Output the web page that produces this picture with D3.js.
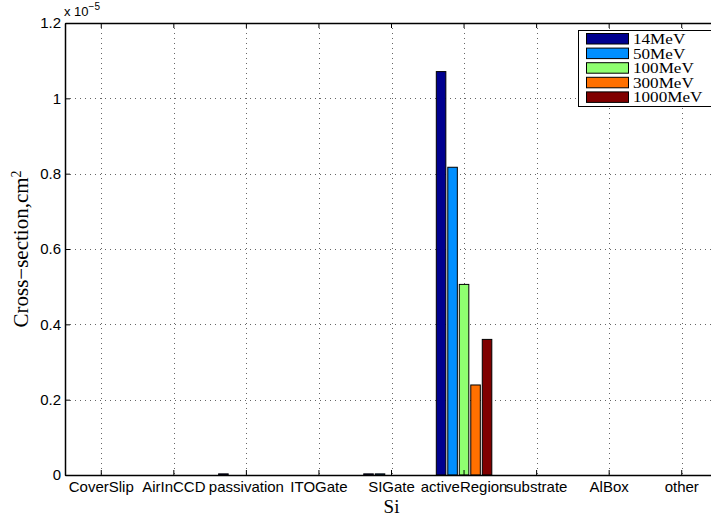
<!DOCTYPE html>
<html>
<head>
<meta charset="utf-8">
<script src="https://cdn.jsdelivr.net/npm/d3@7"></script>
<style>
  html, body { margin: 0; padding: 0; background: #fff; }
  svg { display: block; }
</style>
</head>
<body>
<svg id="chart" width="711" height="519"></svg>
<script>
// Regions of the detector (x categories)
const categories = ["CoverSlip", "AirInCCD", "passivation", "ITOGate", "SIGate",
                    "activeRegion", "substrate", "AlBox", "other"];
// Proton energies (series)
const series = ["14MeV", "50MeV", "100MeV", "300MeV", "1000MeV"];
const seriesColors = ["#00008f", "#008fff", "#8fff70", "#ff7000", "#800000"];
// Cross-section values, in units of 1e-5 cm^2, one array per energy
const v14MeV   = [0, 0, 0.003, 0, 0.003, 1.071, 0, 0, 0];
const v50MeV   = [0, 0, 0,     0, 0.003, 0.817, 0, 0, 0];
const v100MeV  = [0, 0, 0,     0, 0,     0.506, 0, 0, 0];
const v300MeV  = [0, 0, 0,     0, 0,     0.239, 0, 0, 0];
const v1000MeV = [0, 0, 0,     0, 0,     0.360, 0, 0, 0];
const yTicks = [0, 0.2, 0.4, 0.6, 0.8, 1, 1.2];

const values = [v14MeV, v50MeV, v100MeV, v300MeV, v1000MeV];
const rows = [];
categories.forEach((c, i) => {
  series.forEach((s, j) => rows.push({ cat: c, ser: s, val: values[j][i], color: seriesColors[j] }));
});

const svg = d3.select("#chart");
const plotL = 65, plotT = 23, plotB = 475, plotR = 718;

const x = d3.scaleBand().domain(categories).range([plotL, plotR]).padding(0);
const bw = x.bandwidth();
const groupW = bw * 0.765;
const xs = d3.scaleBand().domain(series).range([-groupW / 2, groupW / 2]).paddingInner(0.17).paddingOuter(0);
const y = d3.scaleLinear().domain([0, 1.2]).range([plotB, plotT]);

const sans = "'Liberation Sans', Arial, Helvetica, sans-serif";
const serif = "'Liberation Serif', 'Times New Roman', serif";

// dotted grid
const grid = svg.append("g").attr("stroke", "#666").attr("stroke-width", 1)
  .attr("stroke-dasharray", "1,4");
categories.forEach(c => {
  const cx = Math.round(x(c) + bw / 2) + 0.5;
  grid.append("line").attr("x1", cx).attr("x2", cx).attr("y1", plotT).attr("y2", plotB);
});
yTicks.slice(1, -1).forEach(t => {
  const yy = Math.round(y(t)) + 0.5;
  grid.append("line").attr("x1", plotL).attr("x2", plotR).attr("y1", yy).attr("y2", yy);
});

// bars
svg.append("g").selectAll("rect").data(rows).join("rect")
  .attr("x", d => x(d.cat) + bw / 2 + xs(d.ser))
  .attr("width", xs.bandwidth())
  .attr("y", d => y(d.val))
  .attr("height", d => y(0) - y(d.val))
  .attr("fill", d => d.color)
  .attr("stroke", d => d.val > 0 ? "#000" : "none")
  .attr("stroke-width", 1);

// axes with inward ticks
const xAxis = d3.axisBottom(x).tickSizeInner(-5).tickSizeOuter(0).tickPadding(7);
const gx = svg.append("g").attr("transform", `translate(0,${plotB})`).call(xAxis);
gx.selectAll("text").attr("font-family", sans).attr("font-size", 15).attr("fill", "#000").attr("dy", "0.65em");

const xTop = d3.axisTop(x).tickSizeInner(-5).tickSizeOuter(0).tickFormat("");
svg.append("g").attr("transform", `translate(0,${plotT})`).call(xTop);

const yAxis = d3.axisLeft(y).tickValues(yTicks).tickFormat(d3.format("")).tickSizeInner(-5).tickSizeOuter(0).tickPadding(4);
const gy = svg.append("g").attr("transform", `translate(${plotL},0)`).call(yAxis);
gy.selectAll("text").attr("font-family", sans).attr("font-size", 15).attr("fill", "#000");

svg.selectAll(".domain").attr("stroke", "#000").attr("stroke-width", 1.5);
svg.selectAll(".tick line").attr("stroke", "#000");

// exponent label
const ex = svg.append("text").attr("x", 64).attr("y", 16).attr("font-family", sans)
  .attr("font-size", 13).attr("fill", "#000");
ex.append("tspan").text("x 10");
ex.append("tspan").attr("dy", -6).attr("font-size", 10).text("\u22125");

// axis titles
svg.append("text").attr("x", (plotL + plotR) / 2).attr("y", 513)
  .attr("text-anchor", "middle").attr("font-family", serif).attr("font-size", 19).text("Si");

const yl = svg.append("text").attr("transform", `translate(28,${(plotT + plotB) / 2}) rotate(-90)`)
  .attr("text-anchor", "middle").attr("font-family", serif).attr("font-size", 21);
yl.append("tspan").text("Cross\u2212section,cm");
yl.append("tspan").attr("dy", -7).attr("font-size", 14).text("2");

// legend
const lg = svg.append("g");
lg.append("rect").attr("x", 578.5).attr("y", 30.5).attr("width", 140).attr("height", 76)
  .attr("fill", "#fff").attr("stroke", "#000").attr("stroke-width", 1);
series.forEach((s, j) => {
  const ry = 33.5 + j * 14.6;
  lg.append("rect").attr("x", 586.5).attr("y", ry).attr("width", 42).attr("height", 10.5)
    .attr("fill", seriesColors[j]).attr("stroke", "#000").attr("stroke-width", 1);
  lg.append("text").attr("transform", `translate(633,${ry + 10.5}) scale(1.18,1)`)
    .attr("font-family", serif).attr("font-size", 14.5).attr("fill", "#000").text(s);
});
</script>
</body>
</html>
